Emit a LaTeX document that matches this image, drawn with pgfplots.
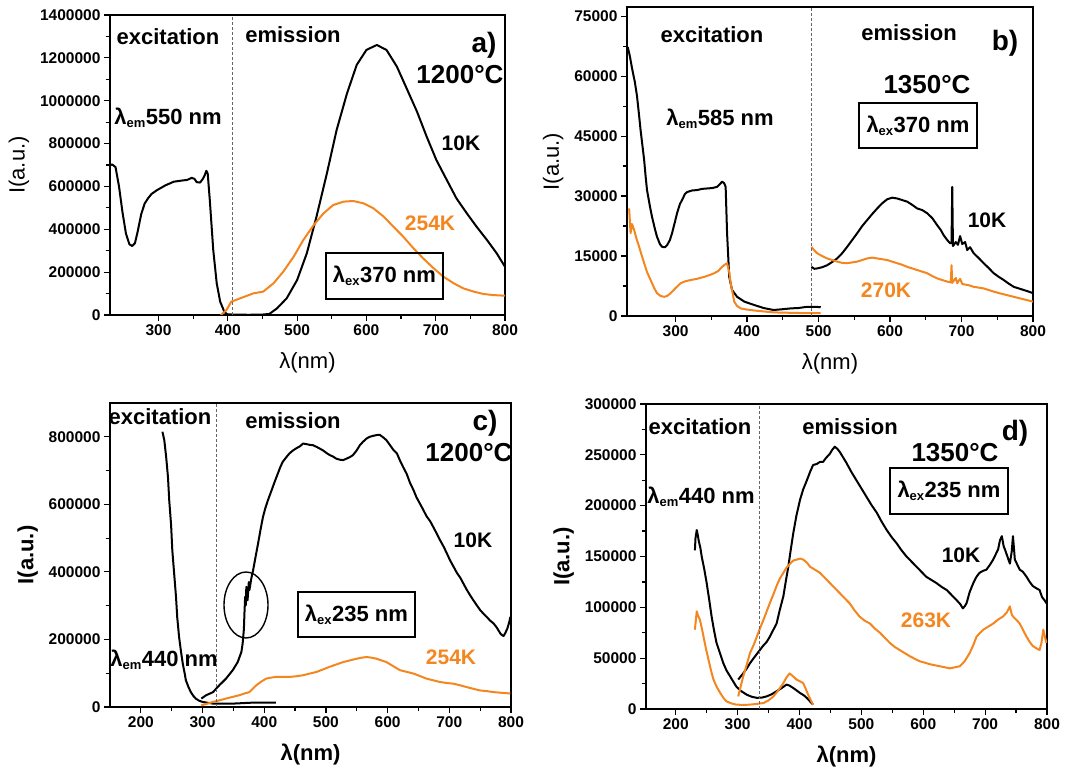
\documentclass[border=0pt]{standalone}
\usepackage{pgfplots}
\pgfplotsset{compat=1.18}
\usepackage{fontspec}
\setmainfont{Liberation Sans}
\definecolor{myor}{RGB}{244,134,32}
\newcommand\fs[1]{\fontsize{#1}{#1}\selectfont}
\newcommand\lem{λ\textsubscript{\fs{13}em}}
\newcommand\lex{λ\textsubscript{\fs{13}ex}}
\tikzset{vl/.style={densely dashed, black!60, line width=0.8pt}}
\pgfplotsset{
 panel/.style={
  scale only axis, anchor=south west,
  axis line style={line width=2pt},
  every tick/.style={black, line width=1.2pt},
  major tick length=6pt, minor tick length=4pt,
  tick align=outside, tick pos=left,
  minor x tick num=1, minor y tick num=1,
  scaled y ticks=false,
  /pgf/number format/assume math mode=true,
  yticklabel style={/pgf/number format/fixed,/pgf/number format/1000 sep={}, font=\fs{15.5}\bfseries},
  xticklabel style={/pgf/number format/1000 sep={}, font=\fs{15.5}\bfseries},
  xlabel={λ(nm)}, ylabel={I(a.u.)},
  label style={font=\fs{22}},
  xlabel style={yshift=-10pt},
  ylabel style={yshift=4pt},
 },
 blk/.style={black, line width=2pt, line join=round, no markers},
 org/.style={myor, line width=2pt, line join=round, no markers},
}
\begin{document}
\begin{tikzpicture}
\path[use as bounding box] (0pt,0pt) rectangle (1081pt,776pt);

% ---------------- panel a
\begin{axis}[panel, at={(110pt,461pt)}, width=395pt, height=300pt,
  xmin=230, xmax=800, ymin=0, ymax=1400000,
  xtick={300,400,...,800}, ytick={0,200000,...,1400000}]
\addplot[blk] table {
230 697000
233 703000
238 690000
243 600000
248 480000
253 380000
258 330000
262 322000
266 335000
270 390000
275 470000
280 520000
285 545000
290 565000
298 583000
310 605000
322 622000
335 628000
341 630000
348 640000
352 635000
355 620000
360 618000
364 635000
367 655000
369 673000
371 660000
374 537000
379 303000
384 148000
389 62000
395 15000
400 0
};
\addplot[blk] table {
395 3000
410 2000
430 1000
450 2000
460 5000
471 31000
485 78000
500 163000
514 288000
528 459000
543 661000
557 863000
572 1034000
586 1167000
600 1237000
615 1260000
629 1237000
644 1159000
658 1058000
673 949000
687 832000
701 723000
716 630000
730 544000
745 474000
759 412000
774 350000
788 288000
800 225000
};
\addplot[org] table {
390 0
398 23000
405 62000
418 78000
437 101000
451 109000
466 148000
480 202000
495 272000
509 350000
524 420000
538 474000
552 513000
567 529000
581 532000
596 521000
610 498000
625 459000
639 412000
653 366000
668 311000
682 264000
697 218000
711 179000
726 148000
740 124000
755 109000
769 98000
783 93000
800 90000
};
\draw[vl] (407,0) -- (407,1400000);
\end{axis}

% ---------------- panel b
\begin{axis}[panel, at={(627pt,460pt)}, width=406pt, height=309pt,
  xmin=232, xmax=800, ymin=0, ymax=77300,
  xtick={300,400,...,800}, ytick={0,15000,...,75000}]
\addplot[blk] table {
233 67300
236 65000
239 62000
243 58500
246 55000
249 50000
251 46500
254 42000
256 39000
258 35000
260 31500
264 27500
267 24800
271 21800
274 19800
278 18000
281 17300
285 17200
288 17700
292 19000
295 20700
299 23500
302 25700
306 28000
309 29000
313 30500
316 31000
323 31400
330 31500
337 31800
344 31900
351 32000
358 32300
362 33000
365 33600
368 33200
370 32300
372 20700
375 9800
379 6500
386 4800
396 3600
410 2750
423 2000
437 1500
450 1700
461 1900
472 2000
484 2300
495 2300
503 2200
};
\addplot[org] table {
235 26900
237 20700
239 23000
242 21500
245 19500
249 17300
252 15500
256 13200
260 11000
265 9000
270 7000
274 5700
279 5000
284 4800
288 5000
293 5700
300 7000
307 8200
314 8700
321 9000
330 9300
340 9800
347 10200
354 10700
360 11300
365 12300
370 13000
372 13200
375 11000
377 8200
380 5500
382 3600
386 2500
391 1900
400 1600
414 1300
437 900
460 800
484 700
503 700
};
\addplot[blk] table {
490 12300
494 11800
498 11900
505 12200
512 12700
519 13500
526 14400
533 15700
540 17300
547 19000
554 20700
561 22500
568 24000
575 25500
582 26900
589 28200
596 29200
603 29600
610 29400
617 29000
624 28600
631 27800
638 26900
645 26500
652 25700
659 24500
666 22700
671 21500
675 20200
680 19000
684 18200
686 18200
687 32300
688 17500
692 18500
695 17800
698 20000
701 18000
705 18500
708 16500
712 17200
717 15700
724 14500
731 13200
738 12000
745 10700
752 9800
759 9000
766 8100
773 7300
780 6900
787 6500
794 6100
800 5700
};
\addplot[org] table {
490 17300
494 16400
498 15700
505 15000
512 14400
519 14000
526 13600
533 13300
540 13200
547 13400
554 13600
561 14000
568 14400
575 14600
582 14400
589 14200
596 14000
603 13600
610 13200
617 12800
624 12300
631 11900
638 11500
645 11100
652 10700
659 10000
666 9400
673 9000
680 8600
685 8400
686 12700
687 8300
692 9500
694 8200
698 9300
701 8000
710 7700
717 7300
724 7100
731 6900
738 6500
745 6100
755 5600
764 5200
773 4800
782 4400
791 4000
800 3600
};
\draw[vl] (490,0) -- (490,77300);
\end{axis}

% ---------------- panel c
\begin{axis}[panel, at={(110pt,69pt)}, width=401pt, height=304pt,
  xmin=150, xmax=800, ymin=0, ymax=900000,
  xtick={200,300,...,800}, ytick={0,200000,...,800000},
  label style={font=\fs{22}\bfseries}]
\addplot[blk] table {
235 815000
238 790000
241 741000
244 680000
246 612000
249 540000
251 464000
254 395000
257 326000
259 265000
262 207000
265 165000
268 128000
271 100000
273 79000
277 60000
281 44000
285 33000
289 25000
294 19000
300 15000
317 10000
349 10000
382 13000
419 13000
};
\addplot[blk] table {
298 25000
306 35000
317 44000
327 64000
338 84000
349 109000
357 133000
363 163000
365 188000
367 230000
368 280000
369 326000
370 300000
371 356000
372 330000
373 316000
375 370000
376 346000
379 380000
382 405000
386 445000
390 484000
394 525000
398 563000
402 590000
406 612000
410 632000
414 652000
418 672000
422 691000
426 710000
430 726000
436 740000
441 751000
447 760000
452 766000
458 772000
463 780000
469 778000
474 776000
479 775000
485 770000
490 765000
495 760000
501 752000
506 746000
512 741000
517 735000
523 732000
528 731000
533 735000
539 740000
544 746000
550 760000
555 775000
560 785000
566 795000
571 800000
577 803000
582 805000
587 806000
593 798000
598 790000
604 775000
609 762000
615 751000
620 730000
625 711000
631 690000
636 665000
642 642000
647 620000
653 600000
658 583000
663 565000
669 550000
674 533000
680 512000
685 494000
691 474000
696 455000
701 435000
707 415000
712 398000
718 382000
723 365000
728 348000
734 330000
739 316000
745 300000
750 287000
755 277000
761 266000
766 256000
772 247000
777 235000
783 217000
786 212000
788 210000
791 220000
794 232000
797 250000
799 267000
};
\addplot[org] table {
298 5000
308 10000
317 15000
328 20000
338 25000
349 30000
360 35000
368 40000
376 44000
382 55000
387 64000
395 75000
403 84000
411 87000
419 89000
430 89000
441 89000
452 91000
463 94000
474 99000
485 104000
495 111000
506 119000
517 126000
528 133000
539 138000
550 143000
558 146000
566 148000
574 146000
582 143000
590 138000
598 133000
609 121000
620 109000
631 104000
642 99000
652 92000
663 84000
674 79000
685 74000
696 71000
707 69000
718 64000
728 59000
739 54000
750 49000
761 47000
772 44000
785 42000
799 40000
};
\draw[vl] (323,0) -- (323,900000);
\end{axis}

% ---------------- panel d
\begin{axis}[panel, at={(646pt,67pt)}, width=401pt, height=305pt,
  xmin=152, xmax=800, ymin=0, ymax=300000,
  xtick={200,300,...,800}, ytick={0,50000,...,300000},
  label style={font=\fs{22}\bfseries}]
\addplot[blk] table {
231 156000
232 168000
234 176000
236 170000
237 166000
240 158000
242 150000
246 138000
250 124000
254 108000
258 91000
262 77000
266 65000
272 54000
277 45000
282 38000
288 32000
293 27000
298 22000
306 17500
315 14000
323 12000
331 11000
339 11200
347 12400
355 14500
363 17400
371 20500
379 24000
384 23000
390 20600
396 18000
401 15700
407 13500
412 10800
417 7500
422 4300
};
\addplot[org] table {
231 78000
233 90000
234 96000
236 92000
239 88000
242 80000
245 71000
249 59000
253 48500
257 38000
261 29000
266 22000
272 15700
277 11000
282 7500
290 5500
298 4300
310 4000
320 4300
331 5000
342 5900
350 8500
358 12400
366 18500
374 25500
379 31000
384 35000
390 32000
395 29000
400 27500
406 25500
410 20000
414 14000
418 9000
422 4300
};
\addplot[blk] table {
301 29000
305 32000
309 35000
315 40000
320 45000
326 50000
331 54000
336 58000
341 62000
347 66000
352 71000
357 77000
363 84000
368 97000
374 111000
378 126000
382 140000
386 157000
390 173000
395 190000
401 206000
406 216000
412 225000
417 233000
422 240000
428 241000
433 243000
438 243000
443 247000
449 251000
453 255000
457 258000
461 256000
465 253000
470 248000
476 242000
484 233000
492 225000
500 217000
508 209000
516 201000
525 193000
533 184000
541 176000
549 169000
557 163000
565 156000
573 150000
581 145000
589 140000
597 135000
605 130000
613 127000
621 124000
630 120000
638 117000
646 112000
654 107000
660 103000
664 99000
667 101000
670 104000
675 115000
681 124000
686 130000
691 134000
697 136000
702 137000
708 142000
713 147000
717 152000
721 157000
724 166000
727 170000
730 160000
732 157000
736 150000
740 143000
743 155000
745 170000
747 155000
748 147000
752 142000
756 137000
761 135000
767 130000
772 125000
777 121000
782 119000
788 117000
792 110000
796 107000
799 104000
};
\addplot[org] table {
301 12400
305 22000
309 32000
315 44000
320 55000
326 63000
331 71000
336 79000
342 88000
347 96000
352 104000
358 113000
363 121000
368 128000
374 134000
379 139000
385 143000
390 146000
396 147000
401 148000
406 147000
412 144000
417 140000
425 137000
433 134000
441 129000
449 124000
457 119000
465 114000
473 109000
481 104000
489 97000
497 91000
505 87000
514 84000
522 79000
530 75000
538 70000
546 65000
554 61000
562 58000
570 55000
578 52000
586 49500
594 47000
603 45500
611 44000
619 43000
627 42000
635 41000
643 40000
651 41000
659 42000
667 47000
675 55000
681 63000
686 71000
692 75000
697 78000
705 81000
713 84000
721 88000
729 91000
735 95000
740 101000
743 93000
745 91000
750 88000
756 84000
761 78000
767 71000
772 66000
777 62000
782 60000
788 58000
791 65000
794 78000
797 70000
799 65000
};
\draw[vl] (335,0) -- (335,300000);
\end{axis}

% ---------------- annotations (absolute, 1pt = 1px)
\begin{scope}[every node/.style={inner sep=0pt, font=\fs{22}\bfseries}]
% a
\node at (168pt,739pt) {excitation};
\node at (293pt,741pt) {emission};
\node[font=\fs{28}\bfseries] at (484pt,731pt) {a)};
\node[font=\fs{26}\bfseries] at (460pt,701pt) {1200°C};
\node at (168pt,658pt) {\lem550 nm};
\node[font=\fs{21}\bfseries] at (461pt,633pt) {10K};
\node[font=\fs{21}\bfseries, text=myor] at (430pt,553pt) {254K};
\node[draw, line width=1.6pt, minimum width=117pt, minimum height=46pt] at (384.5pt,500pt) {\lex370 nm};
% b
\node at (712pt,741pt) {excitation};
\node at (909pt,743pt) {emission};
\node[font=\fs{28}\bfseries] at (1005pt,733pt) {b)};
\node[font=\fs{26}\bfseries] at (927pt,691pt) {1350°C};
\node[draw, line width=1.6pt, minimum width=118pt, minimum height=45pt] at (918pt,650.5pt) {\lex370 nm};
\node at (720pt,657pt) {\lem585 nm};
\node[font=\fs{21}\bfseries] at (987pt,556pt) {10K};
\node[font=\fs{21}\bfseries, text=myor] at (886pt,486pt) {270K};
% c
\node at (160pt,359pt) {excitation};
\node at (293pt,355pt) {emission};
\node[font=\fs{28}\bfseries] at (485pt,353pt) {c)};
\node[font=\fs{26}\bfseries] at (469pt,323pt) {1200°C};
\node[font=\fs{21}\bfseries] at (473pt,236pt) {10K};
\node[draw, line width=1.6pt, minimum width=117pt, minimum height=45pt] at (356.5pt,161.5pt) {\lex235 nm};
\node[font=\fs{21}\bfseries, text=myor] at (451pt,119pt) {254K};
\node at (164pt,116pt) {\lem440 nm};
\draw[line width=1.4pt] (246pt,171pt) ellipse [x radius=22pt, y radius=33pt];
% d
\node at (700pt,349pt) {excitation};
\node at (850pt,349pt) {emission};
\node[font=\fs{28}\bfseries] at (1015pt,343pt) {d)};
\node[font=\fs{26}\bfseries] at (955pt,323pt) {1350°C};
\node[draw, line width=1.6pt, minimum width=118pt, minimum height=46pt] at (949pt,285pt) {\lex235 nm};
\node at (701pt,279pt) {\lem440 nm};
\node[font=\fs{21}\bfseries] at (961pt,221pt) {10K};
\node[font=\fs{21}\bfseries, text=myor] at (926pt,156pt) {263K};
\end{scope}
\end{tikzpicture}
\end{document}
